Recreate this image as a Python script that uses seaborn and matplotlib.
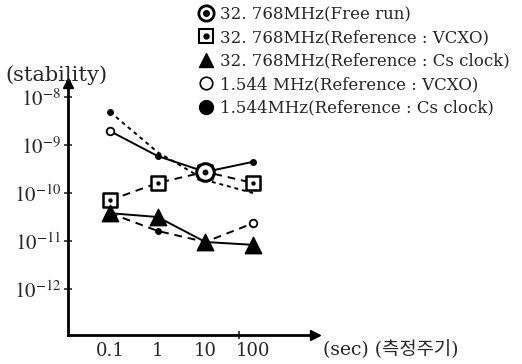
import numpy as np
import pandas as pd
import matplotlib
matplotlib.use('Agg')
import matplotlib.pyplot as plt
from matplotlib.lines import Line2D
from matplotlib.ticker import NullLocator, NullFormatter
import seaborn as sns

# measuring period (sec)
periods = [0.1, 1, 10, 100]
period_labels = ['0.1', '1', '10', '100']

# stability as log10 values
upper_dashed = [-8.31, -9.15, -9.73, -10.0]
upper_solid = [-8.71, -9.23, -9.56, -9.35]
vcxo_32 = [-10.15, -9.79, -9.56, -9.79]
cs_32 = [-10.42, -10.5, -11.02, -11.08]
lower_dashed = [-10.42, -10.79, -11.02, -10.63]

y_ticks = [-8, -9, -10, -11, -12]

legend_labels = [
    '32. 768MHz(Free run)',
    '32. 768MHz(Reference : VCXO)',
    '32. 768MHz(Reference : Cs clock)',
    '1.544 MHz(Reference : VCXO)',
    '1.544MHz(Reference : Cs clock)',
]

lines = {
    'upper_dashed': upper_dashed,
    'upper_solid': upper_solid,
    'vcxo_32': vcxo_32,
    'cs_32': cs_32,
    'lower_dashed': lower_dashed,
}
rows = []
for name, vals in lines.items():
    for p, v in zip(periods, vals):
        rows.append({'period': p, 'stability': 10 ** v, 'series': name})
df = pd.DataFrame(rows)

sns.set_theme(style='white')
plt.rcParams['font.family'] = ['DejaVu Serif', 'Noto Sans CJK KR']
plt.rcParams['mathtext.fontset'] = 'stix'

fig = plt.figure(figsize=(5.22, 3.64), dpi=100)
ax = fig.add_axes([68 / 522, 1 - 335 / 364, 247 / 522, 252 / 364])

dash_styles = {
    'upper_dashed': (2, 2),
    'upper_solid': '',
    'vcxo_32': (4, 3),
    'cs_32': '',
    'lower_dashed': (4, 3),
}
sns.lineplot(data=df, x='period', y='stability', hue='series', style='series',
             palette=['black'] * 5, dashes=dash_styles, linewidth=1.4,
             legend=False, ax=ax)

# markers
sq_x, sq_y = periods, [10 ** v for v in vcxo_32]
tr_x, tr_y = periods, [10 ** v for v in cs_32]
open_x = [periods[0], periods[3]]
open_y = [10 ** upper_solid[0], 10 ** lower_dashed[3]]
dot_x = [periods[0], periods[1], periods[3], periods[1]]
dot_y = [10 ** upper_dashed[0], 10 ** upper_solid[1], 10 ** upper_solid[3], 10 ** lower_dashed[1]]
fr_x, fr_y = [periods[2]], [10 ** upper_solid[2]]

sns.scatterplot(x=sq_x, y=sq_y, marker='s', s=110, color='white', edgecolor='black', linewidth=1.8, ax=ax, zorder=4)
sns.scatterplot(x=sq_x, y=sq_y, marker='o', s=10, color='black', linewidth=0, ax=ax, zorder=5)
sns.scatterplot(x=tr_x, y=tr_y, marker='^', s=140, color='black', edgecolor='black', linewidth=1, ax=ax, zorder=4)
sns.scatterplot(x=open_x, y=open_y, marker='o', s=30, color='white', edgecolor='black', linewidth=1.3, ax=ax, zorder=4)
sns.scatterplot(x=dot_x, y=dot_y, marker='o', s=25, color='black', linewidth=0, ax=ax, zorder=4)
sns.scatterplot(x=fr_x, y=fr_y, marker='o', s=160, color='white', edgecolor='black', linewidth=2.2, ax=ax, zorder=4)
sns.scatterplot(x=fr_x, y=fr_y, marker='o', s=18, color='black', linewidth=0, ax=ax, zorder=5)

ax.set_xscale('log')
ax.set_yscale('log')
ax.set_xlim(10 ** -1.881, 10 ** 3.30)
ax.set_ylim(10 ** -12.958, 10 ** -7.708)

for side in ['top', 'right']:
    ax.spines[side].set_visible(False)
for side in ['left', 'bottom']:
    ax.spines[side].set_linewidth(2)
    ax.spines[side].set_color('black')
ax.plot([0], [1], marker='^', ms=7, color='black', transform=ax.transAxes, clip_on=False)
ax.plot([1], [0], marker='>', ms=7, color='black', transform=ax.transAxes, clip_on=False)

ax.set_yticks([10.0 ** t for t in y_ticks])
ax.set_yticklabels([r'$10^{%d}$' % t for t in y_ticks], fontsize=15)
ax.yaxis.set_minor_locator(NullLocator())
ax.tick_params(axis='y', direction='inout', length=6, width=1.2, pad=2, left=True)

ax.set_xticks(periods)
ax.set_xticklabels(period_labels, fontsize=13)
ax.set_xticks([50], minor=True)
ax.xaxis.set_minor_formatter(NullFormatter())
ax.tick_params(axis='x', which='major', length=0, pad=5)
ax.tick_params(axis='x', which='minor', direction='inout', length=6, width=1.2, bottom=True)

ax.set_xlabel('')
ax.set_ylabel('')
fig.text(5 / 522, 1 - 75 / 364, '(stability)', va='center', ha='left', fontsize=15)
fig.text(323 / 522, 1 - 350 / 364, '(sec) (측정주기)', va='center', ha='left', fontsize=13.5)

handles = [
    (Line2D([], [], ls='', marker='o', ms=11, mfc='white', mec='black', mew=2),
     Line2D([], [], ls='', marker='o', ms=4, color='black')),
    (Line2D([], [], ls='', marker='s', ms=10, mfc='white', mec='black', mew=1.5),
     Line2D([], [], ls='', marker='o', ms=3.5, color='black')),
    Line2D([], [], ls='', marker='^', ms=10, color='black'),
    Line2D([], [], ls='', marker='o', ms=9, mfc='white', mec='black', mew=1.2),
    Line2D([], [], ls='', marker='o', ms=10, color='black'),
]
fig.legend(handles, legend_labels, loc='upper left', bbox_to_anchor=(198 / 522, 1 - 6 / 364),
           frameon=False, fontsize=12, handlelength=1.0, handletextpad=0.3,
           labelspacing=0.38, borderaxespad=0, borderpad=0)

fig.savefig('out.png', dpi=100)
